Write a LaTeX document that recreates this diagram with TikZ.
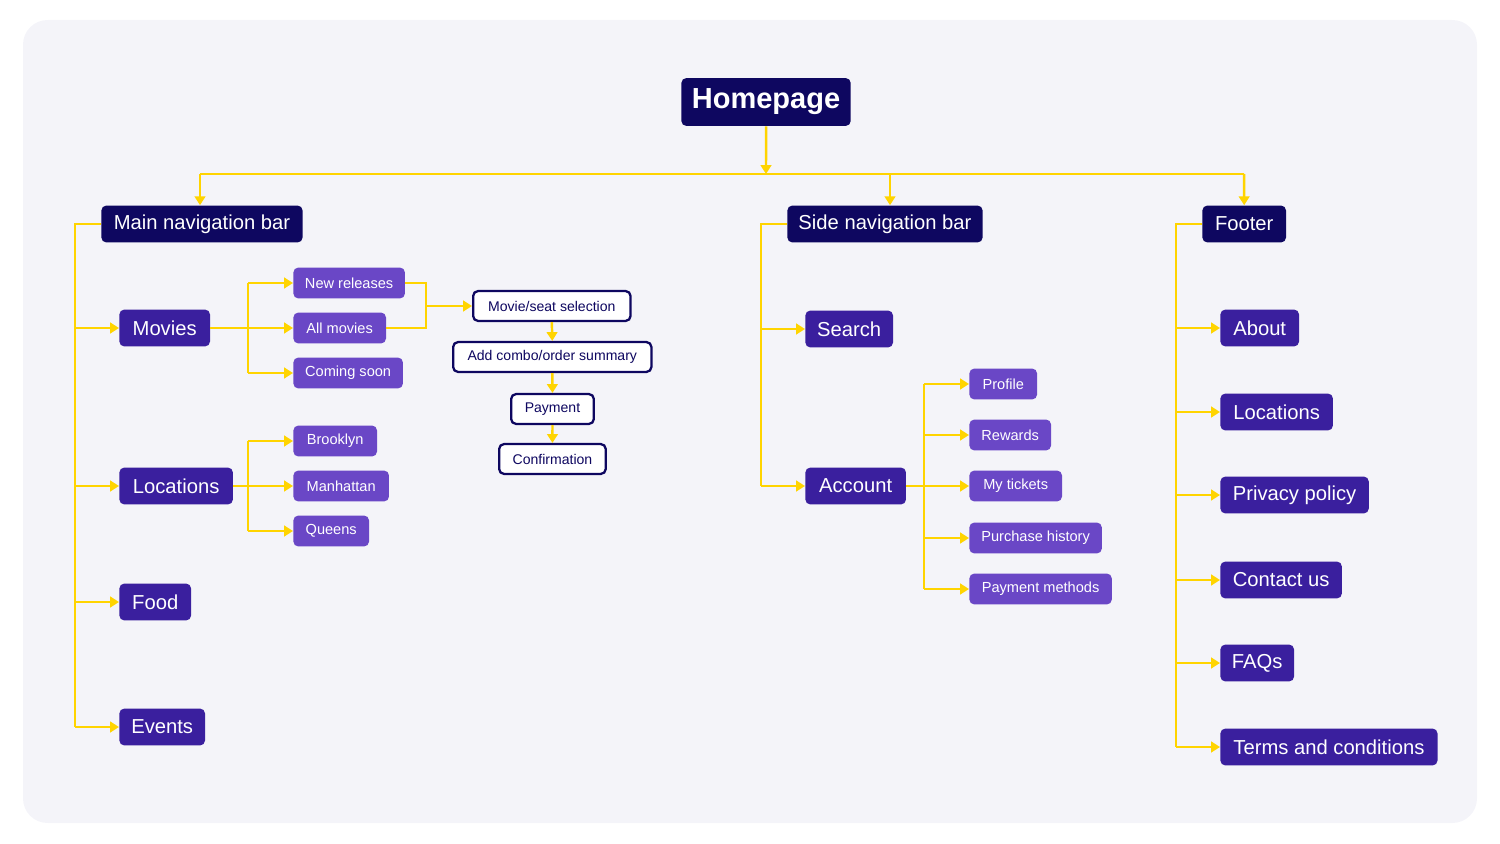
\documentclass[tikz,border=0pt]{standalone}
\usepackage{fontspec}
\setmainfont{Liberation Sans}
\usetikzlibrary{arrows.meta}
\definecolor{bgc}{HTML}{F4F4F9}
\definecolor{navy}{HTML}{0E0760}
\definecolor{mid}{HTML}{3A1F9E}
\definecolor{lite}{HTML}{6A47C6}
\definecolor{yel}{HTML}{FFD400}
\begin{document}
\begin{tikzpicture}[x=0.02cm,y=-0.02cm,
  box/.style={anchor=west,rounded corners=2.8pt,inner sep=0pt,text=white,align=center},
  lone/.style={box,fill=navy,minimum height=37*0.567pt,font=\fontsize{11.5}{13}\selectfont},
  ltwo/.style={box,fill=mid,minimum height=37*0.567pt,font=\fontsize{11.5}{13}\selectfont},
  lthree/.style={box,fill=lite,minimum height=31*0.567pt,font=\fontsize{8.3}{10}\selectfont},
  wbox/.style={box,fill=white,draw=navy,line width=1.3pt,text=navy,minimum height=30*0.567pt,font=\fontsize{8}{10}\selectfont},
  con/.style={draw=yel,line width=1.4pt},
  arr/.style={con,-{Triangle[length=5pt,width=6pt]}}]
\useasboundingbox (0,0) rectangle (1500,844);
\fill[bgc,rounded corners=14pt] (23,20) rectangle (1477,823);
\node[box,fill=navy,minimum width=170*0.567pt,minimum height=48*0.567pt,font=\bfseries\fontsize{16.5}{18}\selectfont] (home) at (681,102) {Homepage};
\node[lone,minimum width=202*0.567pt] (mnb) at (101,224) {Main navigation bar};
\node[lone,minimum width=196*0.567pt] (snb) at (787,224) {Side navigation bar};
\node[lone,minimum width=84*0.567pt] (foot) at (1202,224) {Footer};
\node[ltwo,minimum width=91*0.567pt] (mov) at (119,328) {Movies};
\node[ltwo,minimum width=114*0.567pt] (loc) at (119,486) {Locations};
\node[ltwo,minimum width=72*0.567pt] (food) at (119,602) {Food};
\node[ltwo,minimum width=86*0.567pt] (ev) at (119,727) {Events};
\node[lthree,minimum width=112*0.567pt] (nr) at (293,283) {New releases};
\node[lthree,minimum width=93*0.567pt] (am) at (293,328) {All movies};
\node[lthree,minimum width=110*0.567pt] (cs) at (293,373) {Coming soon};
\node[lthree,minimum width=84*0.567pt] (bk) at (293,441) {Brooklyn};
\node[lthree,minimum width=96*0.567pt] (mh) at (293,486) {Manhattan};
\node[lthree,minimum width=76*0.567pt] (qn) at (293,531) {Queens};
\node[wbox,minimum width=158*0.567pt] (ms) at (472,306) {Movie/seat selection};
\node[wbox,minimum width=199*0.567pt] (ac) at (452,357) {Add combo/order summary};
\node[wbox,minimum width=83*0.567pt] (pay) at (510,409) {Payment};
\node[wbox,minimum width=107*0.567pt] (conf) at (498,459) {Confirmation};
\node[ltwo,minimum width=88*0.567pt] (srch) at (805,329) {Search};
\node[ltwo,minimum width=101*0.567pt] (acct) at (805,486) {Account};
\node[lthree,minimum width=68*0.567pt] (prof) at (969,384) {Profile};
\node[lthree,minimum width=82*0.567pt] (rew) at (969,435) {Rewards};
\node[lthree,minimum width=93*0.567pt] (myt) at (969,486) {My tickets};
\node[lthree,minimum width=133*0.567pt] (ph) at (969,538) {Purchase history};
\node[lthree,minimum width=143*0.567pt] (pm) at (969,589) {Payment methods};
\node[ltwo,minimum width=79*0.567pt] (ab) at (1220,328) {About};
\node[ltwo,minimum width=113*0.567pt] (floc) at (1220,412) {Locations};
\node[ltwo,minimum width=149*0.567pt] (pp) at (1220,495) {Privacy policy};
\node[ltwo,minimum width=122*0.567pt] (cu) at (1220,580) {Contact us};
\node[ltwo,minimum width=74*0.567pt] (faq) at (1220,663) {FAQs};
\node[ltwo,minimum width=218*0.567pt] (tc) at (1220,747) {Terms and conditions};
% top bus
\draw[arr] (home.south) -- (766,174);
\draw[con] (200,174) -- (1244,174);
\draw[arr] (200,174) -- (mnb.north -| 200,0);
\draw[arr] (890,174) -- (snb.north -| 890,0);
\draw[arr] (1244,174) -- (foot.north);
% main nav
\draw[con] (mnb.west) -- (75,224) -- (75,727);
\foreach \n in {mov,loc,food,ev} \draw[arr] (75,0 |- \n.west) -- (\n.west);
\draw[con] (mov.east) -- (248,328);
\draw[con] (248,283) -- (248,373);
\foreach \n in {nr,am,cs} \draw[arr] (248,0 |- \n.west) -- (\n.west);
\draw[con] (loc.east) -- (248,486);
\draw[con] (248,441) -- (248,531);
\foreach \n in {bk,mh,qn} \draw[arr] (248,0 |- \n.west) -- (\n.west);
\draw[con] (nr.east) -- (426,283) -- (426,328) -- (am.east);
\draw[arr] (426,306) -- (ms.west);
\draw[arr] (ms.south) -- (ac.north);
\draw[arr] (ac.south) -- (pay.north);
\draw[arr] (pay.south) -- (conf.north);
% side nav
\draw[con] (snb.west) -- (761,224) -- (761,486);
\foreach \n in {srch,acct} \draw[arr] (761,0 |- \n.west) -- (\n.west);
\draw[con] (acct.east) -- (924,486);
\draw[con] (924,384) -- (924,589);
\foreach \n in {prof,rew,myt,ph,pm} \draw[arr] (924,0 |- \n.west) -- (\n.west);
% footer
\draw[con] (foot.west) -- (1176,224) -- (1176,747);
\foreach \n in {ab,floc,pp,cu,faq,tc} \draw[arr] (1176,0 |- \n.west) -- (\n.west);
\end{tikzpicture}
\end{document}
